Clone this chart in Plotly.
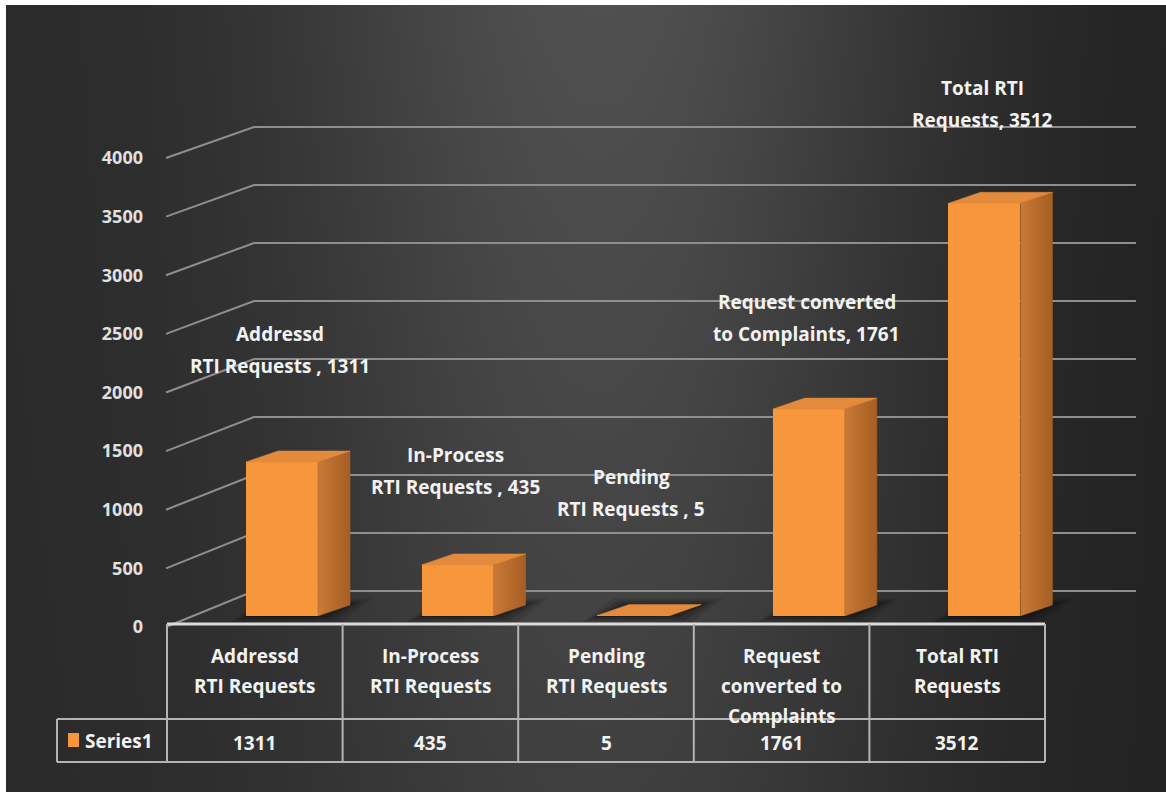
import base64
import struct
import zlib

import numpy as np
import plotly.graph_objects as go

# ------------------------------------------------------------------ data
categories = ["Addressd RTI Requests", "In-Process RTI Requests", "Pending RTI Requests",
              "Request converted to Complaints", "Total RTI Requests"]
values = [1311, 435, 5, 1761, 3512]
header_lines = [["Addressd", "RTI Requests"], ["In-Process", "RTI Requests"],
                ["Pending", "RTI Requests"], ["Request", "converted to", "Complaints"],
                ["Total RTI", "Requests"]]
label_lines = [["Addressd", "RTI Requests , "], ["In-Process", "RTI Requests , "],
               ["Pending", "RTI Requests , "], ["Request converted", "to Complaints, "],
               ["Total RTI", "Requests, "]]
series_name = "Series1"
y_ticks = [0, 500, 1000, 1500, 2000, 2500, 3000, 3500, 4000]

# ------------------------------------------------------------------ style / geometry
W, H = 1166, 795
PL, PR, PT, PB = 6, 1166, 5, 792          # plot area in page pixels
COL_PX = 175.6                            # width of one category column
TABLE_L_PX = 167                          # left edge of first category column
BASE_PX = 616                             # pixel row of value 0 at bar fronts
K = 0.1175                                # pixels per value unit
TICK_BASE_PX, TICK_K = 627, 0.11725       # front plane (tick labels)
BACK_BASE_PX, BACK_K = 591, 0.116         # back wall gridlines
GRID_DIAG_PX, GRID_BACK_PX, GRID_END_PX = 166, 254, 1136

BAR_SHIFT = 0.155
BAR_W = 0.41
DEPTH_X = 32 / COL_PX
DEPTH_Y = 11 / K
label_rise_px = [112, 94, 122, 91, 99]
LABEL_LINE_PX = 32
HEADER_LINE_PX = 30

ORANGE = "#F8963C"
TOP_C = "#E38A3C"
TEXT_C = "#F2F2F2"
FONT = "Open Sans"
FS = 19


def X(px):
    return -0.5 + (px - TABLE_L_PX) / COL_PX


def Y(py):
    return (BASE_PX - py) / K


# ------------------------------------------------------------------ background image (gradient)
def png_gray(arr):
    h, w = arr.shape
    raw = b"".join(b"\x00" + arr[r].tobytes() for r in range(h))

    def chunk(t, d):
        c = struct.pack(">I", len(d)) + t + d
        return c + struct.pack(">I", zlib.crc32(t + d) & 0xFFFFFFFF)

    ihdr = struct.pack(">IIBBBBB", w, h, 8, 0, 0, 0, 0)
    return (b"\x89PNG\r\n\x1a\n" + chunk(b"IHDR", ihdr)
            + chunk(b"IDAT", zlib.compress(raw, 9)) + chunk(b"IEND", b""))


gw, gh = (PR - PL) // 2, (PB - PT) // 2
gx = np.linspace(PL, PR, gw)[None, :]
gy = np.linspace(PT, PB, gh)[:, None]
base = 43 - 9 * (gx / W)
glow = 42 * np.exp(-((gx - 610) / 320) ** 2) * (1 - 0.4 * (gy / H))
img = np.clip(base + glow, 0, 255).astype(np.uint8)
bg_uri = "data:image/png;base64," + base64.b64encode(png_gray(img)).decode()

fig = go.Figure()

# ------------------------------------------------------------------ shapes below traces
shapes = []
for v in y_ticks:
    yf = Y(TICK_BASE_PX - v * TICK_K)
    yb = Y(BACK_BASE_PX - v * BACK_K)
    shapes.append(dict(type="path", layer="below", xref="x", yref="y",
                       path=f"M {X(GRID_DIAG_PX)},{yf} L {X(GRID_BACK_PX)},{yb} L {X(GRID_END_PX)},{yb}",
                       line=dict(color="#8E8E8E", width=2)))

xb = [i + BAR_SHIFT for i in range(len(values))]
for xc, v in zip(xb, values):
    x0, x1 = xc - BAR_W / 2, xc + BAR_W / 2
    for grow, alpha in ((16, 0.10), (11, 0.14), (6, 0.2), (2, 0.25)):
        ex, ey = grow / COL_PX, (grow * 0.4) / K
        shapes.append(dict(type="path", layer="below", xref="x", yref="y",
                           path=(f"M {x0 - ex},{-ey} L {x1 + ex * 1.4},{-ey} "
                                 f"L {x1 + DEPTH_X + ex * 1.4},{DEPTH_Y + ey} L {x0 + DEPTH_X - ex},{DEPTH_Y + ey} Z"),
                           fillcolor=f"rgba(0,0,0,{alpha})", line=dict(width=0)))

# ------------------------------------------------------------------ 3-D faces of bars
for xc, v in zip(xb, values):
    x0, x1 = xc - BAR_W / 2, xc + BAR_W / 2
    fig.add_trace(go.Scatter(
        x=[x1, x1 + DEPTH_X, x1 + DEPTH_X, x1, x1], y=[0, DEPTH_Y, v + DEPTH_Y, v, 0],
        fill="toself", mode="lines", line=dict(width=0.5, color="#B0662A"),
        fillgradient=dict(type="horizontal", colorscale=[[0, "#C97A37"], [1, "#A65E22"]],
                          start=x1, stop=x1 + DEPTH_X),
        hoverinfo="skip", showlegend=False))
    fig.add_trace(go.Scatter(
        x=[x0, x1, x1 + DEPTH_X, x0 + DEPTH_X, x0], y=[v, v, v + DEPTH_Y, v + DEPTH_Y, v],
        fill="toself", mode="lines", fillcolor=TOP_C, line=dict(width=0.5, color=TOP_C),
        hoverinfo="skip", showlegend=False))

fig.add_trace(go.Bar(x=xb, y=values, width=BAR_W, name=series_name,
                     marker=dict(color=ORANGE, line=dict(width=0)), showlegend=False))

# dummy trace so the tick-label axis is drawn
fig.add_trace(go.Scatter(x=[None], y=[None], yaxis="y2", showlegend=False, hoverinfo="skip"))

# ------------------------------------------------------------------ data table
n = len(categories)
tbl_top, tbl_mid, tbl_bot = Y(624), Y(719), Y(762)
tbl_left, tbl_right = X(TABLE_L_PX), n - 0.5
key_left = X(57)
grid_c = "#B4B4B4"
shapes.append(dict(type="line", xref="x", yref="y", x0=tbl_left, x1=tbl_right, y0=tbl_top, y1=tbl_top,
                   line=dict(color="#DCDCDC", width=3)))
for y_ in (tbl_mid, tbl_bot):
    shapes.append(dict(type="line", xref="x", yref="y", x0=key_left, x1=tbl_right, y0=y_, y1=y_,
                       line=dict(color=grid_c, width=2)))
for i in range(n + 1):
    shapes.append(dict(type="line", xref="x", yref="y", x0=i - 0.5, x1=i - 0.5, y0=tbl_top, y1=tbl_bot,
                       line=dict(color=grid_c, width=2)))
shapes.append(dict(type="line", xref="x", yref="y", x0=key_left, x1=key_left, y0=tbl_mid, y1=tbl_bot,
                   line=dict(color=grid_c, width=2)))
shapes.append(dict(type="rect", xref="x", yref="y", x0=X(68), x1=X(79), y0=Y(747), y1=Y(733),
                   fillcolor=ORANGE, line=dict(width=0)))

annotations = []
tfont = dict(family=FONT, size=FS, color=TEXT_C, weight="bold")
for i, lines in enumerate(header_lines):
    for j, line in enumerate(lines):
        annotations.append(dict(x=i, y=Y(656 + j * HEADER_LINE_PX), xref="x", yref="y", text=line,
                                showarrow=False, font=tfont, xanchor="center", yanchor="middle"))
for i, v in enumerate(values):
    annotations.append(dict(x=i, y=Y(743), xref="x", yref="y", text=str(v), showarrow=False,
                            font=tfont, xanchor="center", yanchor="middle"))
annotations.append(dict(x=X(83), y=Y(741), xref="x", yref="y", text=series_name, showarrow=False,
                        font=tfont, xanchor="left", yanchor="middle"))

# ------------------------------------------------------------------ data labels
for i, (lines, v) in enumerate(zip(label_lines, values)):
    m = len(lines)
    for j, line in enumerate(lines):
        txt = line + (str(v) if j == m - 1 else "")
        annotations.append(dict(x=xb[i], y=v, xref="x", yref="y", text=txt, showarrow=False,
                                font=tfont, xanchor="center", yanchor="middle", xshift=-2,
                                yshift=label_rise_px[i] + ((m - 1) / 2 - j) * LABEL_LINE_PX))

fig.update_layout(
    width=W, height=H,
    margin=dict(l=PL, r=W - PR, t=PT, b=H - PB, pad=0),
    paper_bgcolor="white",
    plot_bgcolor="rgba(0,0,0,0)",
    xaxis=dict(range=[X(PL), X(PR)], visible=False, fixedrange=True),
    yaxis=dict(range=[Y(PB), Y(PT)], visible=False, fixedrange=True),
    yaxis2=dict(overlaying="y", anchor="free", side="left", position=(145 - PL) / (PR - PL),
                range=[(TICK_BASE_PX - PB) / TICK_K, (TICK_BASE_PX - PT) / TICK_K],
                tickvals=y_ticks, ticktext=[str(t) for t in y_ticks],
                showgrid=False, zeroline=False, showline=False, ticks="",
                ticklabelstandoff=2,
                tickfont=dict(family=FONT, size=FS - 1, color="#E0E0E0", weight="bold"),
                fixedrange=True),
    images=[dict(source=bg_uri, xref="paper", yref="paper", x=0, y=1, sizex=1, sizey=1,
                 sizing="stretch", layer="below", xanchor="left", yanchor="top")],
    shapes=shapes,
    annotations=annotations,
    showlegend=False,
    bargap=0,
)

fig.write_html("out.html")
